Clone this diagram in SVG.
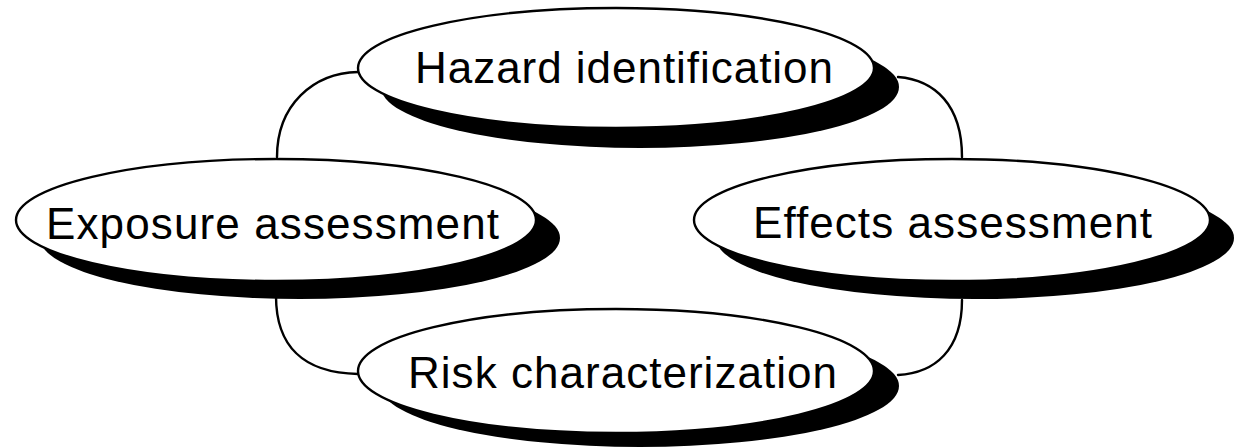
<svg xmlns="http://www.w3.org/2000/svg" width="1237" height="448" viewBox="0 0 1237 448">
<style>
  .bg { fill: #ffffff; }
  .shadow { fill: #000000; }
  .face { fill: #ffffff; stroke: #000000; stroke-width: 2.4; }
  .conn { fill: none; stroke: #000000; stroke-width: 2.4; stroke-linecap: round; }
  .label { font-family: "Liberation Sans", Arial, sans-serif; font-size: 44px; fill: #000000; }
</style>
<rect class="bg" x="0" y="0" width="1237" height="448"/>
<g id="connectors">
  <path class="conn" d="M358,72 C313,73 277,105 277,157"/>
  <path class="conn" d="M898,77 C935,80 962,105 962,157"/>
  <path class="conn" d="M276,296 C276,345 302,373 358,374"/>
  <path class="conn" d="M962,300 C962,350 935,373 898,375"/>
</g>
<g id="hazard-identification">
  <ellipse class="shadow" cx="640" cy="87" rx="259" ry="61"/>
  <ellipse class="face" cx="616" cy="68" rx="258" ry="60"/>
  <text class="label" x="415" y="83" textLength="418" lengthAdjust="spacing">Hazard identification</text>
</g>
<g id="exposure-assessment">
  <ellipse class="shadow" cx="300" cy="238" rx="260" ry="61"/>
  <ellipse class="face" cx="276" cy="220" rx="260" ry="61"/>
  <text class="label" x="46" y="239" textLength="453" lengthAdjust="spacing">Exposure assessment</text>
</g>
<g id="effects-assessment">
  <ellipse class="shadow" cx="975" cy="238" rx="259" ry="61"/>
  <ellipse class="face" cx="952" cy="220" rx="258" ry="61"/>
  <text class="label" x="753" y="238" textLength="399" lengthAdjust="spacing">Effects assessment</text>
</g>
<g id="risk-characterization">
  <ellipse class="shadow" cx="640" cy="386" rx="259" ry="61"/>
  <ellipse class="face" cx="616" cy="371" rx="258" ry="62"/>
  <text class="label" x="408" y="388" textLength="429" lengthAdjust="spacing">Risk characterization</text>
</g>
</svg>
